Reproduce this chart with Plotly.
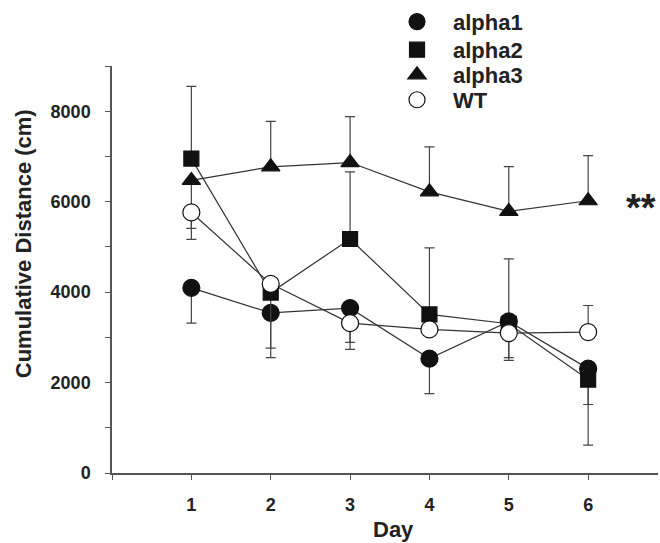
import plotly.graph_objects as go

days = [1, 2, 3, 4, 5, 6]

alpha1 = [4095, 3540, 3646, 2529, 3351, 2308]
alpha1_up = [0, 0, 0, 0, 1383, 0]
alpha1_dn = [781, 989, 912, 772, 0, 793]

alpha2 = [6953, 3990, 5175, 3506, 3300, 2066]
alpha2_up = [1596, 0, 1484, 1471, 0, 0]
alpha2_dn = [0, 1227, 0, 0, 808, 1449]

alpha3 = [6470, 6770, 6865, 6218, 5784, 6020]
alpha3_up = [0, 1007, 1015, 993, 993, 999]
alpha3_dn = [1304, 0, 0, 0, 0, 0]

wt = [5762, 4183, 3314, 3175, 3094, 3116]
wt_up = [0, 0, 0, 0, 0, 588]
wt_dn = [353, 0, 425, 0, 543, 0]

series = [
    ("alpha1", alpha1, alpha1_up, alpha1_dn, "circle", 17, "#111111", "legend", 1.106),
    ("alpha2", alpha2, alpha2_up, alpha2_dn, "square", 15, "#111111", "legend2", 1.037),
    ("alpha3", alpha3, alpha3_up, alpha3_dn, "triangle-up", 16, "#111111", "legend3", 0.9755),
    ("WT", wt, wt_up, wt_dn, "circle", 17, "white", "legend4", 0.9143),
]

y_tickvals = [0, 1000, 2000, 3000, 4000, 5000, 6000, 7000, 8000, 9000]
y_ticktext = ["0", "", "2000", "", "4000", "", "6000", "", "8000", ""]
x_tickvals = [0, 1, 2, 3, 4, 5, 6]
x_ticktext = ["", "1", "2", "3", "4", "5", "6"]

FONT = "Liberation Sans, Arial, sans-serif"
TXT = "#222222"

fig = go.Figure()
# connecting lines first (beneath all markers)
for name, vals, up, dn, sym, size, fill, lg, ly in series:
    fig.add_trace(go.Scatter(
        x=days, y=vals, mode="lines", showlegend=False, hoverinfo="skip",
        line=dict(color="#333333", width=1.2),
    ))
# markers with one-sided error bars
for name, vals, up, dn, sym, size, fill, lg, ly in series:
    fig.add_trace(go.Scatter(
        x=days, y=vals, name=name, mode="markers", legend=lg,
        marker=dict(symbol=sym, size=size, color=fill,
                    line=dict(color="#111111", width=1.2)),
        error_y=dict(type="data", symmetric=False, array=up, arrayminus=dn,
                     color="#444444", thickness=1.2, width=5),
    ))

legend_common = dict(xanchor="left", yanchor="middle", itemwidth=62,
                     font=dict(family=FONT, size=22, color=TXT, weight="bold"),
                     bgcolor="rgba(0,0,0,0)", borderwidth=0)
layout_legends = {}
for name, vals, up, dn, sym, size, fill, lg, ly in series:
    layout_legends[lg] = dict(x=0.4927, y=ly, **legend_common)

fig.update_layout(
    width=660, height=543,
    margin=dict(l=112, r=2, t=65, b=70),
    paper_bgcolor="white", plot_bgcolor="white",
    font=dict(family=FONT, size=18, color=TXT),
    showlegend=True,
    xaxis=dict(range=[0, 6.88], tickvals=x_tickvals, ticktext=x_ticktext,
               showline=True, linecolor="#555555", linewidth=1.5,
               ticks="outside", ticklen=5, tickcolor="#555555", tickwidth=1.2,
               showgrid=False, zeroline=False, automargin=False,
               tickfont=dict(family=FONT, size=18, color=TXT, weight="bold"),
               ticklabelstandoff=10),
    yaxis=dict(range=[0, 9000], tickvals=y_tickvals, ticktext=y_ticktext,
               showline=True, linecolor="#555555", linewidth=1.5,
               ticks="outside", ticklen=5, tickcolor="#555555", tickwidth=1.2,
               showgrid=False, zeroline=False, automargin=False,
               tickfont=dict(family=FONT, size=18, color=TXT, weight="bold"),
               ticklabelstandoff=11),
    annotations=[
        dict(text="<b>Cumulative Distance (cm)</b>", xref="paper", yref="paper",
             x=(23 - 112) / 546, y=(473.3 - 244) / 408, xanchor="center", yanchor="middle",
             textangle=-90, showarrow=False,
             font=dict(family=FONT, size=22, color=TXT)),
        dict(text="<b>Day</b>", xref="paper", yref="paper",
             x=(393 - 112) / 546, y=(473.3 - 530) / 408, xanchor="center", yanchor="middle",
             showarrow=False, font=dict(family=FONT, size=22, color=TXT)),
        dict(text="<b>**</b>", xref="x", yref="y", x=6.665, y=5854,
             xanchor="center", yanchor="middle",
             showarrow=False, font=dict(family=FONT, size=38, color=TXT)),
    ],
    **layout_legends,
)

fig.write_html("out.html", config={"displayModeBar": False},
               post_script="document.body.style.margin='0';")
